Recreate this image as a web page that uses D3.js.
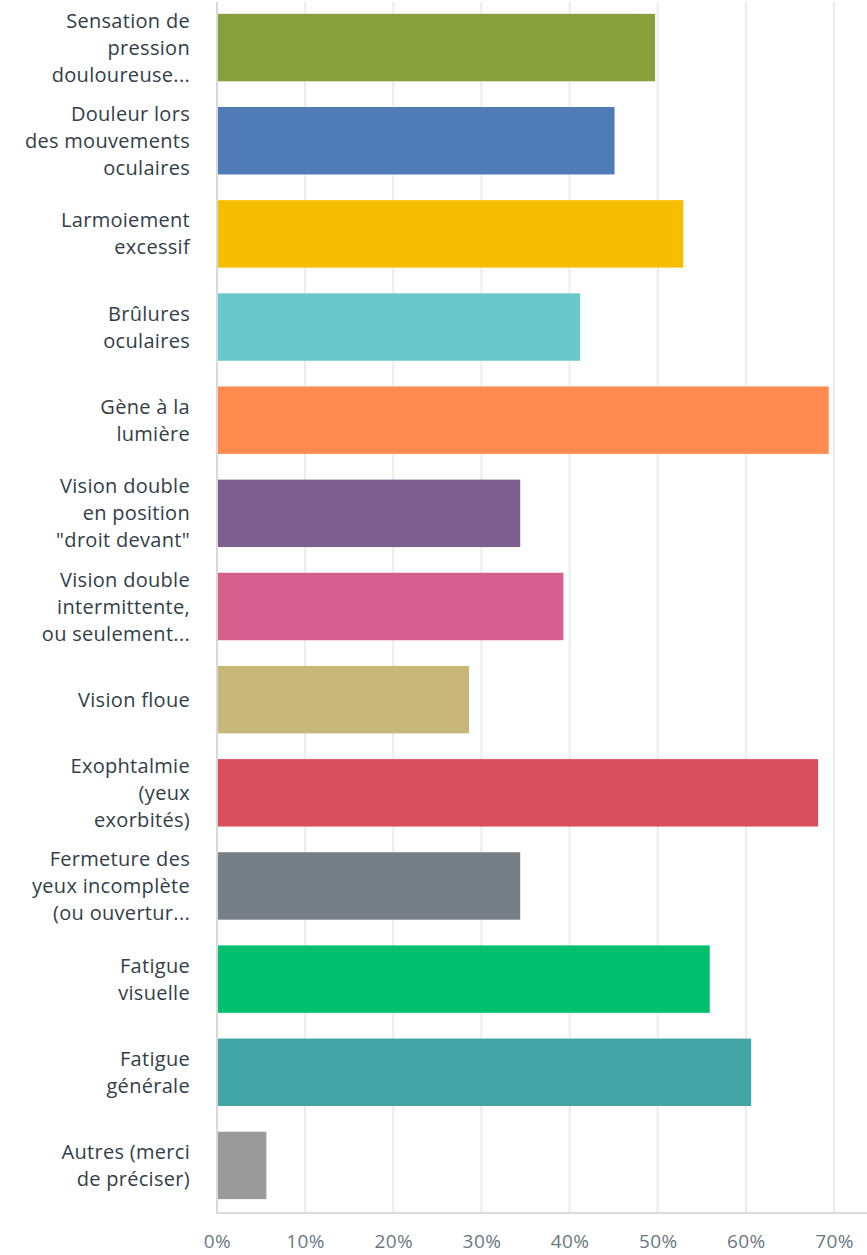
<!DOCTYPE html>
<html lang="fr">
<meta charset="utf-8">
<style>
body { margin: 0; background: #fff; }
.label { font-family: "Open Sans", sans-serif; font-size: 20px; letter-spacing: 0.3px; fill: #333e48; }
.tick text { font-family: "Open Sans", sans-serif; font-size: 19px; letter-spacing: 0.4px; fill: #6b787f; }
</style>
<script src="https://d3js.org/d3.v7.min.js"></script>
<body>
<script>

// Categories (each one split into its display lines)
var categories = [
  ["Sensation de", "pression", "douloureuse..."],
  ["Douleur lors", "des mouvements", "oculaires"],
  ["Larmoiement", "excessif"],
  ["Brûlures", "oculaires"],
  ["Gène à la", "lumière"],
  ["Vision double", "en position", "\"droit devant\""],
  ["Vision double", "intermittente,", "ou seulement..."],
  ["Vision floue"],
  ["Exophtalmie", "(yeux", "exorbités)"],
  ["Fermeture des", "yeux incomplète", "(ou ouvertur..."],
  ["Fatigue", "visuelle"],
  ["Fatigue", "générale"],
  ["Autres (merci", "de préciser)"]
];

// Share of answers, in percent
var values = [49.7, 45.1, 52.9, 41.2, 69.4, 34.4, 39.3, 28.6, 68.2, 34.4, 55.9, 60.6, 5.6];

var colors = ["#87a03b", "#4f7cb6", "#f7be00", "#6ac8cc", "#ff8b4f", "#7d5e8f",
              "#d5608e", "#c7b879", "#da4f5d", "#777f86", "#00bf6f", "#42a6a6", "#9a9a9a"];

var ticks = [0, 10, 20, 30, 40, 50, 60, 70];

var width = 867,
    height = 1255;

var svg = d3.select("body")
            .append("svg")
            .attr("width", width)
            .attr("height", height);

var x = d3.scaleLinear()
    .domain([0, 70])
    .range([217, 834]);

var y = d3.scaleBand()
    .domain(d3.range(categories.length))
    .range([1, 1212])
    .paddingInner(0.276)
    .paddingOuter(0.138);

// Gridlines
svg.append("g")
  .selectAll("line")
  .data(ticks)
  .enter().append("line")
    .attr("x1", function(d) { return x(d); })
    .attr("x2", function(d) { return x(d); })
    .attr("y1", 2)
    .attr("y2", 1213)
    .attr("stroke", function(d) { return d === 0 ? "#d9d9d9" : "#ececec"; })
    .attr("stroke-width", 2);

// Bottom axis line
svg.append("line")
    .attr("x1", x(0) - 1)
    .attr("x2", width)
    .attr("y1", 1213)
    .attr("y2", 1213)
    .attr("stroke", "#dcdcdc")
    .attr("stroke-width", 2);

// Bars
svg.append("g")
  .selectAll("rect")
  .data(values)
  .enter().append("rect")
    .attr("x", x(0) + 1)
    .attr("y", function(d, i) { return y(i); })
    .attr("width", function(d) { return x(d) - x(0) - 1; })
    .attr("height", y.bandwidth())
    .attr("fill", function(d, i) { return colors[i]; });

// Category labels
var label = svg.append("g")
  .selectAll("text")
  .data(categories)
  .enter().append("text")
    .attr("class", "label")
    .attr("text-anchor", "end")
    .attr("x", 190)
    .attr("y", function(d, i) { return y(i) + y.bandwidth() / 2 - (d.length - 1) * 13.5; });

label.selectAll("tspan")
  .data(function(d) { return d; })
  .enter().append("tspan")
    .attr("x", 190)
    .attr("dy", function(d, j) { return j === 0 ? "0.35em" : 27; })
    .text(function(d) { return d; });

// X axis tick labels
var xAxis = d3.axisBottom(x)
    .tickValues(ticks)
    .tickSize(0)
    .tickPadding(0)
    .tickFormat(function(d) { return d + "%"; });

svg.append("g")
    .attr("transform", "translate(0,1234)")
    .call(xAxis)
    .call(function(g) { g.select(".domain").remove(); });

</script>
</body>
</html>
